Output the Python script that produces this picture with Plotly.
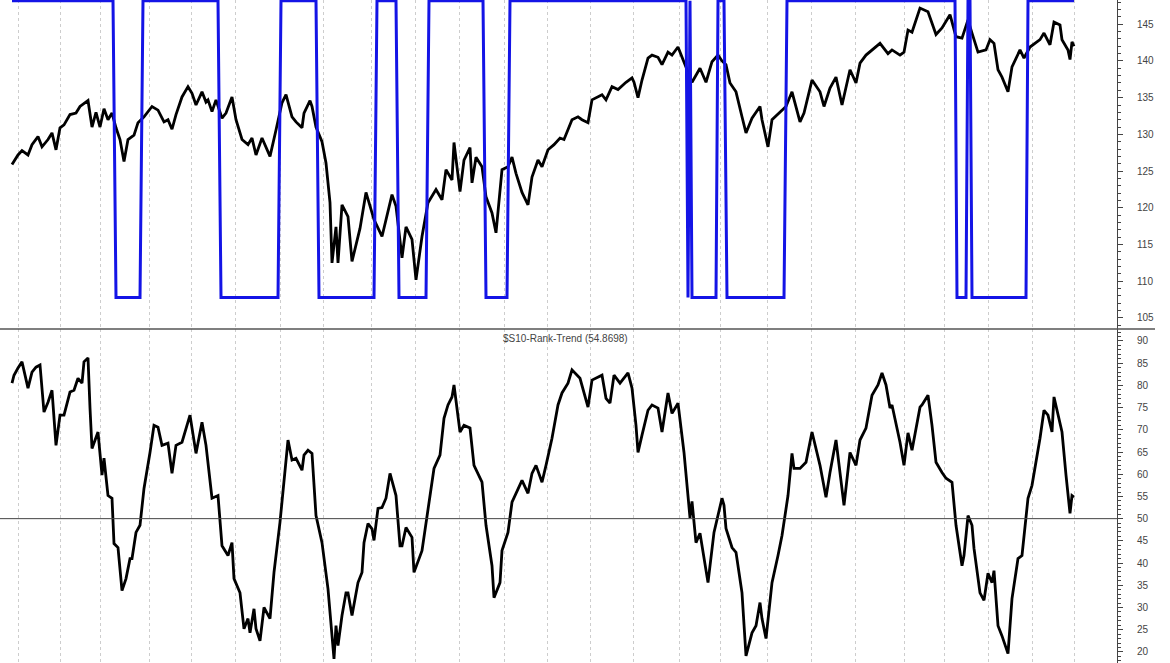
import plotly.graph_objects as go
from plotly.subplots import make_subplots

# ---------------- data ----------------
# price series (trading-day index, value)
price_day = [0, 3, 5, 8, 10, 13, 15, 18, 20, 22, 24, 26, 29, 32, 34, 38, 40, 42, 44, 46, 48, 50, 52, 54, 56, 58,
             61, 63, 66, 70, 73, 76, 78, 80, 82, 85, 88, 90, 92, 95, 97, 98, 100, 102, 105, 107, 110, 112, 115,
             118, 120, 122, 125, 129, 132, 135, 137, 140, 142, 145, 146, 149, 150, 152, 155, 157, 159, 160, 162,
             163, 165, 168, 170, 174, 177, 181, 185, 190, 192, 195, 197, 200, 202, 205, 208, 212, 215, 217, 220,
             221, 224, 226, 229, 230, 232, 235, 237, 240, 242, 244, 245, 248, 250, 252, 255, 258, 260, 263, 265,
             268, 271, 274, 276, 280, 283, 285, 288, 290, 295, 297, 300, 303, 307, 310, 311, 313, 315, 318, 320,
             323, 325, 328, 330, 333, 335, 338, 340, 344, 347, 350, 353, 355, 357, 359, 362, 365, 367, 370, 374,
             375, 378, 380, 384, 387, 390, 394, 396, 400, 404, 406, 409, 412, 415, 419, 422, 424, 427, 434, 438,
             440, 444, 446, 448, 450, 454, 458, 462, 465, 469, 472, 475, 478, 480, 483, 487, 489, 491, 493, 495,
             498, 500, 504, 506, 509, 514, 516, 519, 521, 524, 525, 528, 529, 530, 531]
price_val = [125.9, 127.2, 127.8, 127.2, 128.6, 129.7, 128.3, 129.3, 130.2, 127.9, 130.9, 131.3, 132.7, 132.9,
             133.8, 134.6, 131.0, 133.0, 131.0, 133.5, 132.0, 132.9, 130.9, 129.3, 126.3, 129.3, 129.9, 131.6,
             132.4, 133.8, 133.3, 131.7, 132.0, 130.7, 132.7, 135.1, 136.5, 135.6, 134.0, 135.8, 134.4, 134.7,
             133.1, 134.7, 132.2, 132.9, 135.1, 132.0, 129.3, 128.6, 129.5, 127.2, 129.5, 127.0, 130.6, 134.3,
             135.4, 132.4, 131.7, 130.9, 132.9, 134.6, 133.8, 131.0, 129.0, 126.1, 120.7, 112.5, 117.4, 112.5,
             120.4, 118.8, 112.7, 117.2, 122.1, 118.4, 116.1, 121.8, 120.2, 113.2, 117.4, 115.7, 110.2, 116.1,
             120.7, 122.5, 121.1, 125.2, 123.8, 128.9, 122.2, 126.5, 128.2, 123.4, 126.9, 125.6, 121.5, 119.3,
             116.6, 122.1, 125.2, 125.6, 126.9, 124.7, 122.1, 120.4, 124.2, 126.5, 125.6, 127.9, 128.6, 129.5,
             129.3, 132.0, 132.4, 132.0, 131.6, 134.7, 135.4, 134.7, 136.5, 136.1, 137.1, 137.7, 137.1, 135.0,
             137.4, 140.4, 140.8, 140.5, 139.5, 141.2, 140.8, 141.9, 140.5, 138.3, 137.1, 139.0, 137.1, 139.9,
             140.8, 140.0, 139.5, 137.0, 135.8, 132.4, 130.2, 132.2, 133.8, 132.0, 128.3, 132.0, 133.1, 133.8,
             135.8, 131.7, 132.9, 137.4, 135.8, 133.8, 136.3, 137.8, 134.0, 138.8, 137.0, 139.7, 140.8, 142.4,
             141.0, 141.5, 140.8, 141.2, 144.2, 143.9, 147.2, 146.7, 143.6, 144.5, 146.3, 143.3, 143.1, 145.6,
             143.8, 141.2, 141.5, 142.9, 142.4, 138.8, 137.8, 135.8, 139.2, 141.5, 140.4, 141.9, 142.9, 143.8,
             142.2, 145.3, 144.9, 142.9, 141.5, 140.2, 142.6, 142.0]

# in/out signal (trading-day index, level)
SIG_HI = 148.2
SIG_LO = 107.8
signal_day = [0, 50.5, 52, 64, 65.5, 103, 104.5, 133, 134.5, 152, 153.5, 181, 182.5, 192, 193.5, 207, 208.5,
              235.5, 237, 247.5, 249, 337, 338, 339, 340, 352, 353, 356, 357.5, 386, 387.5, 471.5, 472.5, 477,
              478, 479, 480, 507, 508, 531]
signal_state = [1, 1, 0, 0, 1, 1, 0, 0, 1, 1, 0, 0, 1, 1, 0, 0, 1, 1, 0, 0, 1, 1, 0, 1, 0, 0, 1, 1, 0, 0, 1, 1,
                0, 0, 1, 1, 0, 0, 1, 1]

# $S10-Rank-Trend oscillator (trading-day index, value)
rank_day = [0, 1, 3, 5, 8, 10, 12, 14, 16, 18, 20, 22, 24, 26, 29, 31, 33, 35, 36, 38, 39, 40, 43, 45, 46, 48,
            50, 51, 53, 55, 57, 59, 60, 62, 64, 66, 69, 71, 73, 75, 78, 80, 82, 85, 89, 92, 95, 97, 100, 103,
            105, 108, 110, 111, 114, 116, 118, 119, 121, 122, 124, 126, 129, 131, 134, 136, 138, 140, 142, 145,
            146, 148, 150, 152, 155, 158, 160, 161, 162, 163, 165, 167, 168, 170, 173, 175, 176, 178, 180, 181,
            183, 185, 187, 189, 192, 194, 195, 197, 200, 201, 205, 207, 209, 211, 214, 216, 218, 220, 221, 224,
            226, 229, 231, 235, 237, 240, 241, 244, 245, 248, 250, 253, 255, 258, 260, 262, 265, 267, 270, 273,
            275, 278, 280, 284, 288, 290, 295, 297, 299, 301, 304, 308, 310, 312, 313, 315, 318, 320, 323, 325,
            328, 330, 333, 336, 339, 340, 342, 344, 348, 351, 355, 356, 357, 360, 362, 365, 367, 370, 372, 374,
            375, 377, 380, 383, 385, 388, 390, 391, 394, 397, 400, 404, 407, 409, 412, 416, 419, 422, 424, 427,
            430, 433, 435, 437, 439, 440, 444, 446, 448, 450, 454, 455, 458, 460, 462, 465, 467, 470, 472, 475,
            476, 478, 480, 481, 484, 486, 488, 490, 491, 493, 495, 498, 500, 503, 505, 508, 510, 514, 516, 518,
            520, 521, 523, 525, 527, 529, 530, 531]
rank_val = [80.5, 82.3, 83.9, 85.3, 79.4, 83.0, 84.1, 84.6, 74.0, 76.2, 78.9, 66.5, 73.3, 73.3, 78.5, 78.9, 81.6,
            80.5, 85.3, 86.2, 74.9, 65.8, 69.5, 59.8, 63.6, 55.2, 54.6, 44.4, 43.5, 33.8, 36.5, 41.0, 41.0, 46.9,
            48.5, 56.8, 64.9, 71.0, 70.6, 66.5, 67.0, 60.2, 66.5, 67.2, 73.3, 64.7, 71.7, 66.5, 54.6, 55.2, 43.9,
            41.7, 44.6, 36.5, 33.3, 25.2, 27.5, 24.3, 29.7, 25.2, 22.5, 30.0, 27.5, 37.9, 49.2, 59.1, 67.7, 63.2,
            63.6, 60.9, 64.3, 65.4, 64.7, 50.7, 44.6, 34.2, 23.0, 18.4, 25.9, 21.4, 28.2, 33.3, 33.3, 28.2, 35.6,
            37.9, 44.6, 48.9, 47.7, 45.1, 52.3, 52.5, 54.6, 60.2, 55.2, 43.9, 43.9, 48.0, 45.8, 37.9, 42.8, 49.2,
            55.9, 61.3, 64.3, 72.6, 75.6, 77.4, 80.1, 69.5, 71.0, 70.4, 62.0, 58.2, 48.5, 39.4, 32.2, 35.6, 42.8,
            46.9, 53.7, 56.8, 58.6, 55.7, 60.2, 62.0, 58.2, 62.0, 68.1, 75.6, 78.3, 80.5, 83.5, 81.6, 75.1, 81.2,
            82.3, 77.1, 76.0, 82.3, 80.5, 82.8, 79.4, 71.0, 64.9, 68.8, 74.4, 75.6, 74.9, 69.5, 78.3, 73.7, 76.0,
            64.9, 50.2, 53.9, 44.6, 46.7, 35.6, 46.9, 54.6, 53.0, 47.8, 43.5, 42.4, 33.3, 19.1, 24.3, 25.9, 31.1,
            27.5, 23.0, 35.6, 41.7, 46.2, 55.2, 64.7, 61.3, 61.3, 62.7, 69.5, 62.0, 54.8, 60.4, 67.7, 53.0, 64.9,
            62.0, 67.7, 70.4, 77.8, 80.1, 82.8, 80.1, 74.9, 75.6, 67.2, 62.0, 69.3, 65.4, 75.1, 75.6, 77.8, 71.0,
            62.7, 60.4, 59.1, 58.2, 48.5, 39.4, 41.7, 50.7, 48.5, 43.3, 33.3, 31.6, 37.7, 35.6, 38.3, 25.9, 23.6,
            19.6, 32.0, 41.0, 41.7, 54.6, 57.5, 68.1, 74.4, 73.3, 69.5, 77.4, 73.3, 69.5, 59.8, 51.2, 55.2, 54.87]

# month boundaries (vertical grid lines)
month_starts = [3, 24, 44, 68.5, 89.5, 111.5, 134, 155.5, 179.5, 201.5, 223.5, 246, 267.5, 289, 310.5, 333.5,
                354, 377.5, 399.5, 421.5, 446, 466, 488, 510, 531]

upper_ticks = [105, 110, 115, 120, 125, 130, 135, 140, 145]
lower_ticks = [20, 25, 30, 35, 40, 45, 50, 55, 60, 65, 70, 75, 80, 85, 90]
rank_title = "$S10-Rank-Trend (54.8698)"
rank_midline = 50

# ---------------- figure ----------------
W, H = 1170, 663
split = 1 - 329 / H

fig = make_subplots(rows=2, cols=1, shared_xaxes=True, vertical_spacing=0,
                    row_heights=[1 - split, split])

signal_val = [SIG_HI if s else SIG_LO for s in signal_state]

fig.add_trace(go.Scatter(x=price_day, y=price_val, mode="lines",
                         line=dict(color="#000000", width=2.8), hoverinfo="skip"), row=1, col=1)
fig.add_trace(go.Scatter(x=signal_day, y=signal_val, mode="lines",
                         line=dict(color="#1414e6", width=3), hoverinfo="skip"), row=1, col=1)
fig.add_trace(go.Scatter(x=rank_day, y=rank_val, mode="lines",
                         line=dict(color="#000000", width=2.8), hoverinfo="skip"), row=2, col=1)

xcommon = dict(range=[-6, 552.5], tickvals=month_starts, showticklabels=False, ticks="",
               showgrid=True, gridcolor="#cdcdcd", griddash="3px,3px", gridwidth=1,
               zeroline=False, showline=False)
fig.update_xaxes(**xcommon, row=1, col=1)
fig.update_xaxes(**xcommon, row=2, col=1)

ycommon = dict(side="right", showgrid=False, zeroline=False, showline=True, linecolor="#444",
               linewidth=1, ticks="outside", ticklen=5, tickcolor="#444", tickwidth=1,
               tickfont=dict(family="Liberation Sans, Arial, sans-serif", size=10, color="#444"),
               ticklabelstandoff=12,
               minor=dict(dtick=1, ticks="outside", ticklen=3, tickcolor="#444", tickwidth=1))
fig.update_yaxes(**ycommon, range=[103.5, 148.3], tickvals=upper_ticks, row=1, col=1)
fig.update_yaxes(**ycommon, range=[17.5, 92.7], tickvals=lower_ticks, row=2, col=1)

# panel divider
fig.add_shape(type="line", xref="paper", yref="paper", x0=0, x1=1155 / 1117, y0=split, y1=split,
              line=dict(color="#555", width=1.5))
# 50 line in lower panel
fig.add_shape(type="line", xref="x2 domain", yref="y2", x0=0, x1=1, y0=rank_midline, y1=rank_midline,
              line=dict(color="#444", width=1))

fig.add_annotation(text=rank_title, xref="paper", yref="paper", x=565 / 1117, y=split - 2 / H,
                   xanchor="center", yanchor="top", showarrow=False,
                   font=dict(family="Liberation Sans, Arial, sans-serif", size=10, color="#444"))

fig.update_layout(width=W, height=H, margin=dict(l=0, r=53, t=0, b=0, autoexpand=False),
                  paper_bgcolor="white", plot_bgcolor="white", showlegend=False)

fig.write_html("out.html", config={"displayModeBar": False, "staticPlot": True},
               post_script="document.body.style.margin='0';document.body.style.overflow='hidden';")
